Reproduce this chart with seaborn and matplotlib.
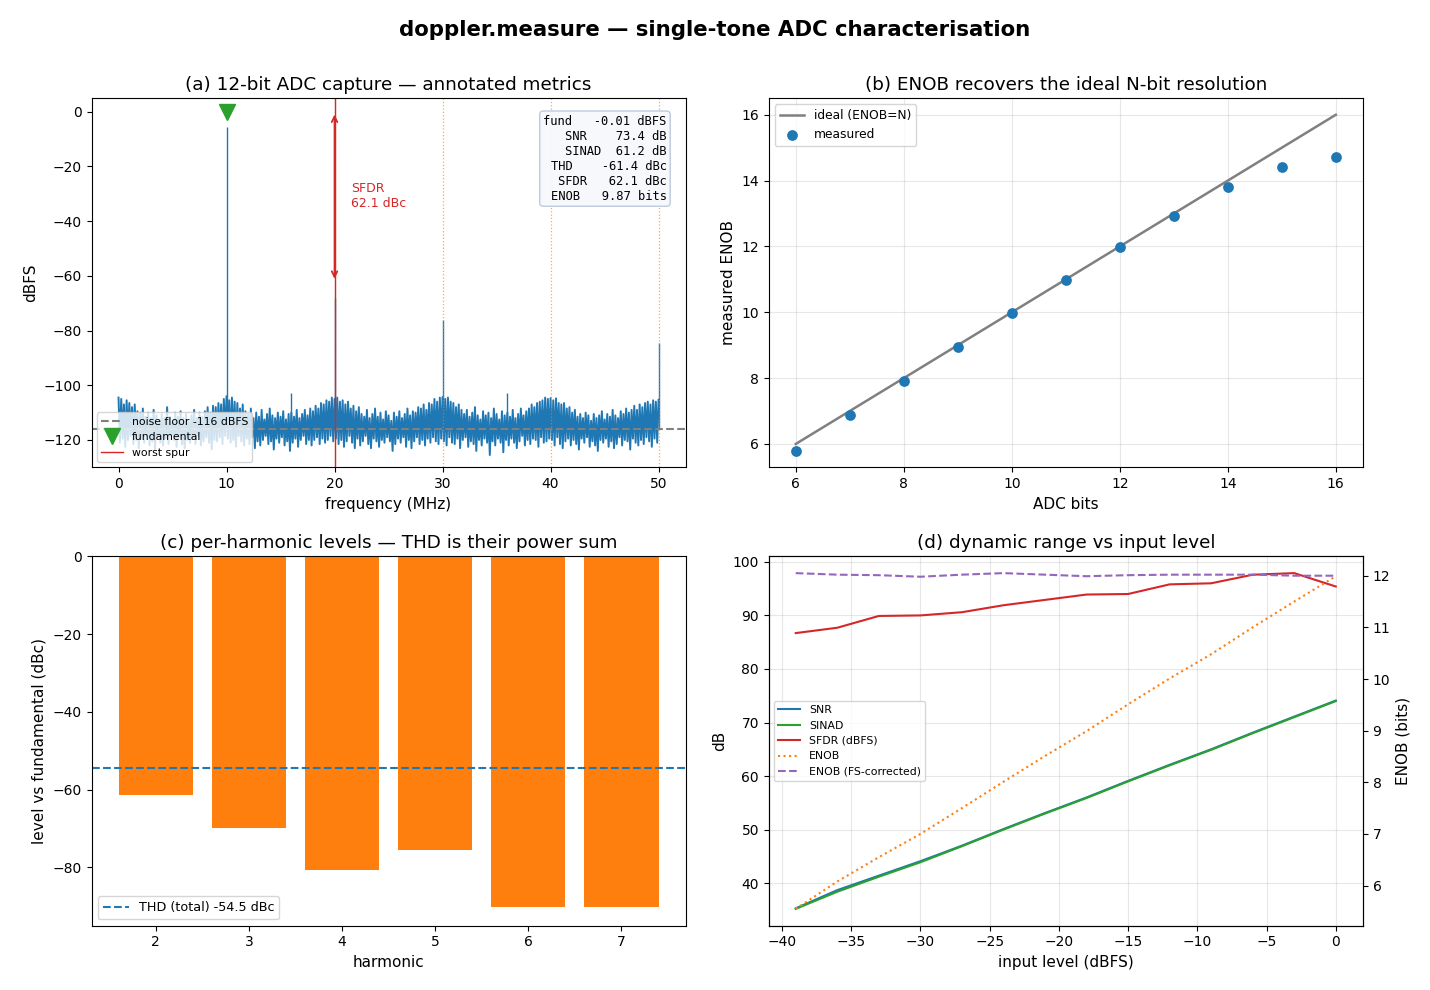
import seaborn as sns
import matplotlib.pyplot as plt
import numpy as np

# (a) spectrum -- noise envelope (dBFS)
# upper strokes at 0, 0.25, ... 50 MHz (4 per MHz)
noise_hi = [-104.5, -105.0, -107.0, -105.5, -106.5, -108.0, -107.0, -109.5,
            -110.0, -108.5, -111.5, -110.0, -112.0, -109.0, -111.0, -113.0,
            -110.5, -112.0, -108.0, -111.5, -113.0, -110.0, -111.5, -109.5,
            -112.0, -110.5, -113.0, -111.0, -109.0, -112.0, -110.0, -111.5,
            -109.5, -108.0, -110.0, -107.5, -108.0, -106.5, -107.0, -105.0,
            -104.0, -105.5, -104.5, -106.0, -106.5, -108.5, -107.0, -109.5,
            -110.5, -108.5, -112.0, -110.0, -111.5, -109.0, -112.5, -110.5,
            -108.5, -111.0, -112.0, -110.0, -111.5, -109.5, -112.5, -110.5,
            -110.0, -111.5, -109.0, -112.0, -110.5, -109.0, -111.0, -108.5,
            -109.5, -107.5, -108.5, -106.5, -107.0, -105.5, -106.0, -104.5,
            -105.0, -104.5, -106.0, -105.5, -107.0, -106.0, -108.5, -107.5,
            -109.5, -108.0, -110.5, -111.5, -109.0, -112.0, -110.5, -108.5,
            -111.5, -110.0, -112.5, -109.5, -111.0, -113.0, -110.0, -111.5,
            -109.5, -112.0, -110.5, -108.5, -111.0, -109.5, -110.0, -108.0,
            -108.5, -107.0, -109.0, -106.5, -107.0, -105.0, -106.0, -104.5,
            -104.3, -105.0, -104.5, -106.0, -106.5, -108.0, -107.0, -109.0,
            -110.5, -109.0, -111.5, -110.0, -108.0, -111.0, -112.5, -109.5,
            -111.0, -110.0, -112.0, -108.5, -110.5, -112.5, -109.5, -111.0,
            -110.0, -111.5, -109.0, -112.0, -110.5, -108.5, -111.0, -109.5,
            -108.5, -107.0, -108.0, -106.5, -106.0, -105.5, -104.5, -105.0,
            -104.7, -105.5, -104.8, -106.5, -107.0, -106.5, -108.5, -108.0,
            -110.0, -109.0, -111.5, -110.5, -112.0, -110.0, -111.0, -113.0,
            -110.5, -112.0, -111.0, -109.5, -112.5, -110.5, -111.5, -109.0,
            -111.0, -112.0, -109.5, -110.5, -108.5, -110.0, -109.0, -107.5,
            -109.0, -107.0, -108.0, -106.5, -106.0, -107.0, -105.5, -106.0,
            -105.3]
# lower strokes at 0.125, 0.375, ... 49.875 MHz
noise_lo = [-121.0, -119.5, -122.5, -120.0, -118.5, -121.5, -120.0, -123.0,
            -119.5, -121.0, -118.5, -122.0, -120.5, -123.5, -119.0, -121.0,
            -122.0, -119.5, -121.5, -118.5, -120.0, -122.5, -119.0, -121.5,
            -123.0, -120.0, -121.0, -119.5, -121.5, -118.5, -122.0, -120.5,
            -119.0, -121.0, -123.5, -120.0, -120.5, -119.0, -121.5, -118.5,
            -119.5, -121.0, -120.0, -122.5, -118.5, -120.5, -122.0, -119.5,
            -121.5, -119.0, -123.0, -120.5, -122.0, -120.0, -118.5, -121.5,
            -120.5, -123.5, -119.5, -121.0, -119.0, -122.0, -120.5, -124.0,
            -121.0, -119.5, -122.5, -120.0, -118.5, -121.5, -120.0, -122.0,
            -120.0, -119.0, -121.5, -119.5, -121.0, -120.0, -118.5, -120.5,
            -119.5, -121.5, -120.0, -122.5, -120.5, -118.5, -121.0, -123.0,
            -119.5, -122.0, -120.5, -118.5, -121.5, -123.0, -119.5, -120.5,
            -122.5, -120.0, -121.0, -119.0, -120.5, -124.0, -121.5, -119.5,
            -121.0, -119.0, -122.5, -120.0, -123.0, -120.5, -119.0, -121.5,
            -120.0, -122.0, -119.5, -121.0, -119.0, -120.5, -121.5, -119.5,
            -120.5, -122.0, -119.0, -121.0, -121.5, -119.5, -123.0, -120.0,
            -119.0, -122.5, -120.5, -121.5, -124.0, -120.0, -122.0, -119.5,
            -121.0, -125.5, -120.5, -122.0, -119.5, -121.0, -124.5, -120.0,
            -122.0, -119.5, -121.0, -123.0, -120.5, -118.5, -122.0, -120.0,
            -121.5, -119.5, -120.0, -122.5, -119.0, -121.0, -120.5, -119.5,
            -120.0, -122.0, -119.0, -121.5, -123.0, -120.5, -119.5, -122.0,
            -120.0, -121.5, -123.5, -119.5, -121.0, -119.0, -122.5, -120.5,
            -122.0, -124.0, -120.0, -121.0, -119.5, -122.5, -120.5, -123.0,
            -121.5, -119.0, -122.0, -120.0, -120.5, -123.5, -119.5, -121.0,
            -122.0, -120.0, -121.5, -119.0, -120.5, -122.5, -119.5, -121.0]
tone_f = [10, 20, 30, 50, 16, 36]
tone_lvl = [-5.5, -68.0, -76.3, -84.4, -103.0, -103.0]
harm_f = [20, 30, 40, 50]
fund_f = 10
fund_dbfs = -0.01
noise_floor = -116
spur_f = 20
sfdr_dbc = 62.1
metric_lines = ["fund   -0.01 dBFS",
                "SNR    73.4 dB",
                "SINAD  61.2 dB",
                "THD    -61.4 dBc",
                "SFDR   62.1 dBc",
                "ENOB   9.87 bits"]

# (b) ENOB vs ADC bits
adc_bits = [6, 7, 8, 9, 10, 11, 12, 13, 14, 15, 16]
enob_meas = [5.80, 6.88, 7.90, 8.96, 9.99, 10.99, 11.99, 12.93, 13.81, 14.42, 14.72]

# (c) harmonics
harmonic = [2, 3, 4, 5, 6, 7]
harm_dbc = [-61.5, -70.0, -80.7, -75.6, -90.2, -90.2]
thd_total = -54.5

# (d) sweep over input level
in_level = [-39, -36, -33, -30, -27, -24, -21, -18, -15, -12, -9, -6, -3, 0]
snr = [35.3, 38.7, 41.4, 44.1, 47.0, 50.1, 53.1, 56.0, 59.1, 62.1, 65.0, 68.1, 71.1, 74.1]
sinad = [35.2, 38.4, 41.2, 43.9, 46.9, 50.0, 53.0, 55.9, 59.0, 62.0, 64.9, 68.0, 71.0, 74.0]
sfdr = [86.7, 87.7, 89.9, 90.0, 90.6, 91.9, 92.9, 93.9, 94.0, 95.8, 96.0, 97.6, 97.9, 95.4]
enob = [5.55, 6.08, 6.55, 7.00, 7.50, 8.01, 8.51, 8.99, 9.51, 10.01, 10.48, 11.00, 11.50, 11.99]
enob_fs = [12.05, 12.02, 12.01, 11.98, 12.02, 12.05, 12.02, 11.99, 12.01, 12.02, 12.02, 12.02, 12.00, 12.00]

plt.rcParams['font.family'] = ['DejaVu Sans']
plt.rcParams['axes.labelsize'] = 11
plt.rcParams['axes.titlesize'] = 13.2
fig, axes = plt.subplots(2, 2, figsize=(14.3, 9.9), dpi=100)
fig.subplots_adjust(left=0.064, right=0.953, top=0.901, bottom=0.065, wspace=0.14, hspace=0.241)
fig.suptitle('doppler.measure — single-tone ADC characterisation', fontsize=15.3, fontweight='bold')

# ---- (a) spectrum
ax = axes[0, 0]
f_hi = np.arange(len(noise_hi)) * 0.25
f_lo = f_hi[:-1] + 0.125
f_all = np.empty(len(f_hi) + len(f_lo))
lvl_all = np.empty_like(f_all)
f_all[0::2], f_all[1::2] = f_hi, f_lo
lvl_all[0::2], lvl_all[1::2] = noise_hi, noise_lo
sns.lineplot(x=f_all, y=lvl_all, ax=ax, color='tab:blue', lw=1.4, errorbar=None)
ax.vlines(tone_f, noise_floor, tone_lvl, color='tab:blue', lw=1.0)
for h in harm_f:
    ax.axvline(h, color='tab:orange', ls=':', lw=0.9, alpha=0.7)
ax.axhline(noise_floor, color='gray', ls='--', lw=1.5, label=f'noise floor {noise_floor} dBFS')
ax.plot(fund_f, fund_dbfs, 'v', color='tab:green', ms=12, ls='none', label='fundamental')
ax.axvline(spur_f, color='tab:red', lw=1.0, label='worst spur')
ax.annotate('', xy=(spur_f, fund_dbfs - sfdr_dbc), xytext=(spur_f, fund_dbfs),
            arrowprops=dict(arrowstyle='<->', color='tab:red', lw=1.3))
ax.text(spur_f + 1.5, -31, f'SFDR\n{sfdr_dbc} dBc', color='tab:red', fontsize=9, va='center')
ax.text(0.968, 0.955, '\n'.join(metric_lines), transform=ax.transAxes, ha='right', va='top',
        family='monospace', fontsize=8.7, multialignment='right',
        bbox=dict(boxstyle='round', fc='#f6f8fb', ec='#b8c8dc', alpha=0.95))
ax.set_ylim(-130, 5)
ax.set_xlabel('frequency (MHz)')
ax.set_ylabel('dBFS')
ax.set_title('(a) 12-bit ADC capture — annotated metrics')
ax.legend(loc='lower left', fontsize=7.8)

# ---- (b) ENOB vs bits
ax = axes[0, 1]
sns.lineplot(x=adc_bits, y=adc_bits, ax=ax, color='gray', lw=1.8, label='ideal (ENOB=N)')
sns.scatterplot(x=adc_bits, y=enob_meas, ax=ax, color='tab:blue', s=60, linewidth=0,
                label='measured', zorder=3)
ax.grid(alpha=0.3)
ax.set_xlabel('ADC bits')
ax.set_ylabel('measured ENOB')
ax.set_title('(b) ENOB recovers the ideal N-bit resolution')
ax.legend(loc='upper left', fontsize=8.8)

# ---- (c) harmonics
ax = axes[1, 0]
sns.barplot(x=harmonic, y=harm_dbc, ax=ax, native_scale=True, orient='x',
            color='tab:orange', saturation=1, width=0.8)
ax.axhline(thd_total, color='tab:blue', ls='--', lw=1.5, label=f'THD (total) {thd_total} dBc')
ax.set_ylim(-95, 0)
ax.set_xticks(harmonic)
ax.set_xlabel('harmonic')
ax.set_ylabel('level vs fundamental (dBc)')
ax.set_title('(c) per-harmonic levels — THD is their power sum')
ax.legend(loc='lower left', fontsize=9.2)

# ---- (d) input-level sweep
ax = axes[1, 1]
ax2 = ax.twinx()
sns.lineplot(x=in_level, y=snr, ax=ax, color='tab:blue', lw=1.5, label='SNR')
sns.lineplot(x=in_level, y=sinad, ax=ax, color='tab:green', lw=1.5, label='SINAD')
sns.lineplot(x=in_level, y=sfdr, ax=ax, color='tab:red', lw=1.5, label='SFDR (dBFS)')
sns.lineplot(x=in_level, y=enob, ax=ax2, color='tab:orange', lw=1.5, ls=':', label='ENOB')
sns.lineplot(x=in_level, y=enob_fs, ax=ax2, color='tab:purple', lw=1.5, ls='--',
             label='ENOB (FS-corrected)')
h1, l1 = ax.get_legend_handles_labels()
h2, l2 = ax2.get_legend_handles_labels()
ax.get_legend().remove()
ax2.legend(h1 + h2, l1 + l2, loc='center left', fontsize=7.8)
ax.grid(alpha=0.3)
ax.set_xlabel('input level (dBFS)')
ax.set_ylabel('dB')
ax2.set_ylabel('ENOB (bits)')
ax.set_title('(d) dynamic range vs input level')

plt.savefig('out.png', dpi=100)
